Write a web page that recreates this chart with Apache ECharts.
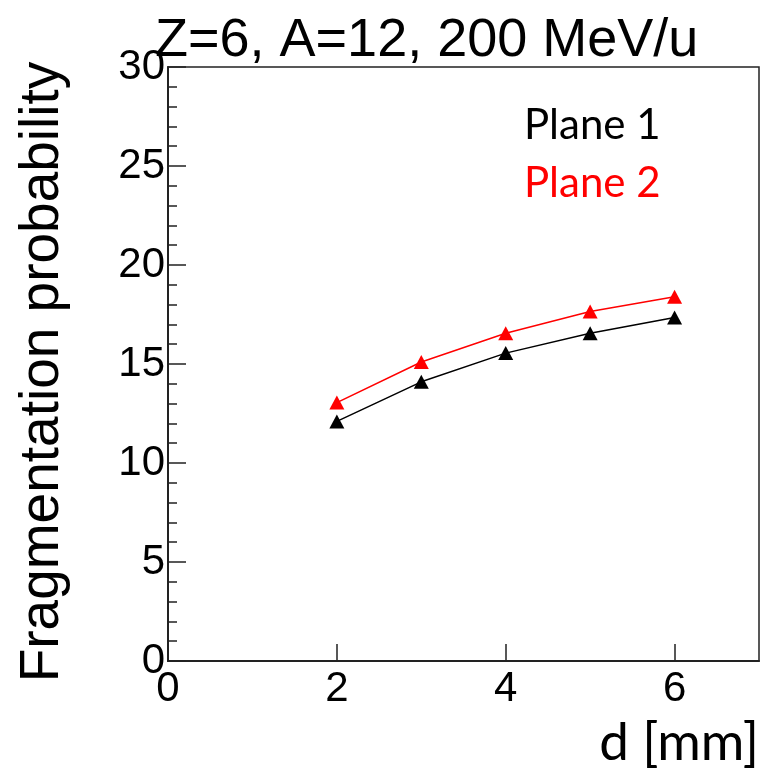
<!DOCTYPE html>
<html>
<head>
<meta charset="utf-8">
<script src="https://cdn.jsdelivr.net/npm/echarts@6/dist/echarts.min.js"></script>
<style>html,body{margin:0;padding:0;background:#fff}#c{width:773px;height:779px}</style>
</head>
<body>
<div id="c"></div>
<script>
const distances = [2, 3, 4, 5, 6];
const plane1 = [12.1, 14.1, 15.55, 16.55, 17.35];
const plane2 = [13.05, 15.1, 16.55, 17.65, 18.4];
const xTicks = [0, 2, 4, 6];
const titleText = 'Z=6, A=12, 200 MeV/u';

const chart = echarts.init(document.getElementById('c'));
const mk = (arr) => distances.map((d, i) => [d, arr[i]]);
chart.setOption({
  animation: false,
  backgroundColor: '#fff',
  title: {
    text: titleText, left: 150, top: 9,
    textStyle: { fontFamily: 'Liberation Sans', fontSize: 54, fontWeight: 'normal', color: '#000' }
  },
  legend: {
    orient: 'vertical', left: 519, top: 99, itemGap: 16, itemWidth: 0, itemHeight: 0,
    selectedMode: false,
    textStyle: { fontFamily: 'Lato', fontSize: 42, padding: [0,0,0,-5] },
    data: [
      { name: 'Plane 1', icon: 'none', textStyle: { color: '#000' } },
      { name: 'Plane 2', icon: 'none', textStyle: { color: '#ff0000' } }
    ]
  },
  grid: { left: 168, top: 67, right: 14, bottom: 118, show: true, borderColor: '#222', borderWidth: 1.5, backgroundColor: 'transparent' },
  xAxis: {
    type: 'value', min: 0, max: 7, interval: 1,
    name: 'd [mm]', nameLocation: 'end', nameGap: 0,
    nameTextStyle: { fontFamily: 'Lato', fontSize: 53, color: '#000', align: 'right', verticalAlign: 'top', padding: [55, 0, 0, 0] },
    axisLine: { show: true, onZero: false, lineStyle: { color: '#222', width: 2 } },
    axisTick: { show: true, inside: true, length: 17, customValues: xTicks, lineStyle: { color: '#222', width: 1.5 } },
    axisLabel: { customValues: xTicks, fontFamily: 'Liberation Sans', fontSize: 42, color: '#000', margin: 7 },
    splitLine: { show: false }
  },
  yAxis: {
    type: 'value', min: 0, max: 30, interval: 5,
    name: 'Fragmentation probability', nameLocation: 'middle', nameRotate: 90, nameGap: 98,
    nameTextStyle: { fontFamily: 'Liberation Sans', fontSize: 55, color: '#000', padding: [0, 16, 0, 0] },
    axisLine: { show: true, onZero: false, lineStyle: { color: '#222', width: 2 } },
    axisTick: { show: true, inside: true, length: 18, lineStyle: { color: '#222', width: 1.5 } },
    minorTick: { show: true, splitNumber: 5, length: 9, lineStyle: { color: '#222', width: 1.5 } },
    axisLabel: { fontFamily: 'Liberation Sans', fontSize: 42, color: '#000', margin: 3 },
    splitLine: { show: false }
  },
  series: [
    { name: 'Plane 1', type: 'line', data: mk(plane1), symbol: 'triangle', symbolSize: [15, 14],
      itemStyle: { color: '#000' }, lineStyle: { color: '#000', width: 1.5 } },
    { name: 'Plane 2', type: 'line', data: mk(plane2), symbol: 'triangle', symbolSize: [15, 14],
      itemStyle: { color: '#ff0000' }, lineStyle: { color: '#ff0000', width: 1.5 } }
  ]
});
</script>
</body>
</html>
